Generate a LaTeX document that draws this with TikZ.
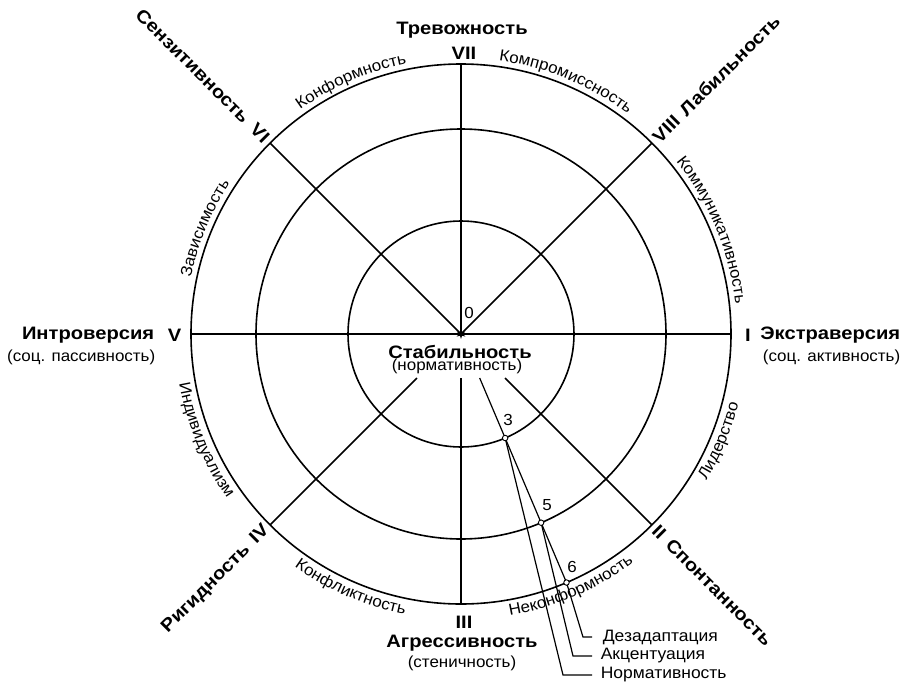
\documentclass[tikz,border=0pt]{standalone}
\usepackage{fontspec}
\setmainfont{Liberation Sans}[FakeStretch=1.06]
\newfontfamily\boldfam{Liberation Sans Bold}[FakeStretch=1.12]
\usetikzlibrary{decorations.text,shapes.geometric}

\newcommand{\axisfont}{\boldfam\fontsize{18}{18}\selectfont}
\newcommand{\subfont}{\fontsize{16}{16}\selectfont}
\newcommand{\legfont}{\fontsize{16.5}{16.5}\selectfont}
\newcommand{\arcfont}{\fontsize{16}{16}\selectfont}

\begin{document}
\begin{tikzpicture}[x=1pt,y=1pt,line width=1.6pt,
  axisname/.style={font=\axisfont,inner sep=1pt},
  subname/.style={font=\subfont,inner sep=1pt},
  legend/.style={font=\legfont,inner sep=0pt,anchor=west},
  leader/.style={line width=1.2pt},
  ptmark/.style={draw,circle,fill=white,inner sep=0pt,minimum size=5.5pt,line width=0.9pt},
  numlabel/.style={font=\subfont,inner sep=0pt},
  arcout/.style={decorate,decoration={text along path,text align=center,text={|\arcfont|#1}}}]
\useasboundingbox (-461,-347) rectangle (443,334);

% circles
\draw (0,0) circle[radius=113];
\draw (0,0) circle[radius=205];
\draw (0,0) circle[radius=270];

% spokes
\coordinate (O) at (0,0);
\draw (180:270) -- (0:270);
\draw (O) -- (90:270);
\draw (O) -- (45:270);
\draw (O) -- (135:270);
\draw (0,-44) -- (-90:270);
\draw (-44,-44) -- (-135:270);
\draw (44,-44) -- (-45:270);
\node[star,star points=6,star point ratio=2.5,fill,inner sep=0pt,minimum size=10pt] (ctr) at (O) {};

% points on the ray
\coordinate (r0) at (-67:47.8);
\coordinate (p3) at (-67:113);
\coordinate (p5) at (-67:205);
\coordinate (p6) at (-67:270);
\draw[leader] (r0) -- (p3) -- (p5) -- (p6);
\draw[leader] (p6) -- (122,-303) -- (131,-303) coordinate (lg1);
\draw[leader] (p5) -- (112,-322) -- (131,-322) coordinate (lg2);
\draw[leader] (p3) -- (102,-341) -- (131,-341) coordinate (lg3);
\node[ptmark] at (p3) {};
\node[ptmark] at (p5) {};
\node[ptmark] at (p6) {};
\node[numlabel] (n3) at (47,-86) {3};
\node[numlabel] (n5) at (86,-171) {5};
\node[numlabel] (n6) at (111,-233) {6};
\node[numlabel] (n0) at (8,21) {0};

\node[legend] (dez) at ([xshift=10pt]lg1) {Дезадаптация};
\node[legend] (akc) at ([xshift=8pt]lg2) {Акцентуация};
\node[legend] (nrm) at ([xshift=8pt]lg3) {Нормативность};

% centre
\node[axisname] (stab) at (-1,-18) {Стабильность};
\node[subname] (stabsub) at (-4,-32) {(нормативность)};

% axis names
\node[axisname] (trev) at (1,304) {Тревожность};
\node[axisname] (VII) at (3,281) {VII};
\node[axisname] (III) at (3,-288) {III};
\node[axisname] (aggr) at (1,-309) {Агрессивность};
\node[subname] (aggrsub) at (1,-329) {(стеничность)};
\node[axisname,anchor=east] (intr) at (-305,-1) {Интроверсия};
\node[axisname] (V) at (-286.5,-1) {V};
\node[subname,anchor=east] (intrsub) at (-304,-23) {(соц. пассивность)};
\node[axisname] (I) at (287,-1) {I};
\node[axisname,anchor=east] (extr) at (441,-1) {Экстраверсия};
\node[subname,anchor=east] (extrsub) at (441,-23) {(соц. активность)};
\node[axisname,rotate=-45,anchor=east] (sens) at (135:273) {Сензитивность\hspace{9pt}VI};
\node[axisname,rotate=45,anchor=west] (lab) at (45:273) {VIII\hspace{8pt}Лабильность};
\node[axisname,rotate=-45,anchor=west] (spon) at (-45:273) {II\hspace{8pt}Спонтанность};
\node[axisname,rotate=45,anchor=east] (rig) at (-135:273) {Ригидность\hspace{8pt}IV};

% labels along the outer circle
\path[arcout=Зависимость] (187.5:276) arc[start angle=187.5,end angle=127.5,radius=276];
\path[arcout=Конформность] (143.5:276) arc[start angle=143.5,end angle=83.5,radius=276];
\path[arcout=Компромиссность] (97.5:276) arc[start angle=97.5,end angle=37.5,radius=276];
\path[arcout=Коммуникативность] (52.5:276) arc[start angle=52.5,end angle=-7.5,radius=276];
\path[arcout=Лидерство] (-52.5:286) arc[start angle=-52.5,end angle=7.5,radius=286];
\path[arcout=Неконформность] (-96.5:286) arc[start angle=-96.5,end angle=-36.5,radius=286];
\path[arcout=Конфликтность] (-143.5:286) arc[start angle=-143.5,end angle=-83.5,radius=286];
\path[arcout=Индивидуализм] (-187.5:286) arc[start angle=-187.5,end angle=-127.5,radius=286];
\end{tikzpicture}
\end{document}
